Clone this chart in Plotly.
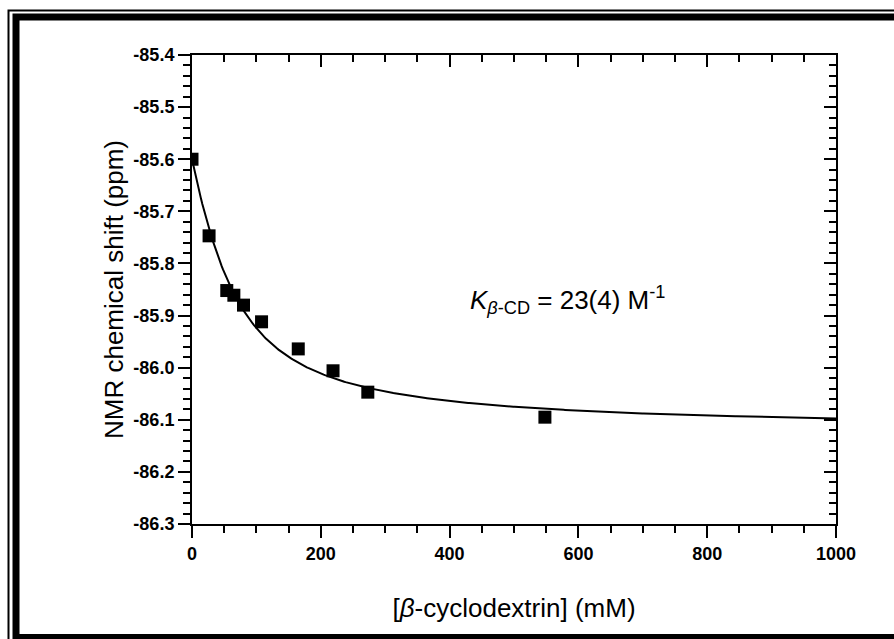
import numpy as np
import plotly.graph_objects as go

# Titration data: 19F NMR shift vs. beta-cyclodextrin concentration
conc_mM = [0, 26.5, 54, 65, 80, 108, 165, 219, 273, 548]
shift_ppm = [-85.600, -85.747, -85.852, -85.861, -85.880, -85.912,
             -85.964, -86.006, -86.047, -86.095]

# 1:1 binding fit parameters
K_per_M = 23.0            # association constant, M^-1
guest_mM = 45.0           # total guest concentration
delta_free = -85.600      # shift of free guest
delta_bound = -86.120     # shift of fully complexed guest

x_ticks = [0, 200, 400, 600, 800, 1000]
x_ticktext = ["0", "200", "400", "600", "800", "1000"]
y_ticks = [-86.3, -86.2, -86.1, -86.0, -85.9, -85.8, -85.7, -85.6, -85.5, -85.4]
y_ticktext = ["-86.3", "-86.2", "-86.1", "-86.0", "-85.9", "-85.8",
              "-85.7", "-85.6", "-85.5", "-85.4"]

# fitted curve from the 1:1 binding isotherm (quadratic form)
K = K_per_M / 1000.0
h = np.linspace(0, 1000, 500)
S = guest_mM + h + 1.0 / K
frac = (S - np.sqrt(S ** 2 - 4 * guest_mM * h)) / (2 * guest_mM)
fit = delta_free + (delta_bound - delta_free) * frac

# plot-area geometry in pixels (for placing frame and label)
W, H = 894, 639
L, R, T, B = 192, 836, 55, 524


def px_x(p):
    return (p - L) / (R - L)


def px_y(p):
    return (B - p) / (B - T)


fig = go.Figure()
fig.add_trace(go.Scatter(x=h, y=fit, mode="lines",
                         line=dict(color="black", width=2), hoverinfo="skip"))
fig.add_trace(go.Scatter(x=conc_mM, y=shift_ppm, mode="markers",
                         marker=dict(symbol="square", size=13, color="black",
                                     line=dict(width=0))))
# companion trace carrying the top / right axes
fig.add_trace(go.Scatter(x=conc_mM, y=shift_ppm, mode="markers", xaxis="x2", yaxis="y2",
                         marker=dict(opacity=0), hoverinfo="skip"))

tickfont = dict(family="Liberation Sans, Arial", size=18, color="black", weight="bold")
titlefont = dict(family="Liberation Sans, Arial", size=26, color="black")

common = dict(showgrid=False, zeroline=False, showline=True, linecolor="black",
              linewidth=2, tickcolor="black", tickwidth=2, ticklen=12)

fig.update_layout(
    width=W, height=H,
    margin=dict(l=L, r=W - R, t=T, b=H - B, pad=0),
    paper_bgcolor="white", plot_bgcolor="white",
    showlegend=False,
    font=dict(family="Liberation Sans, Arial", color="black"),
    xaxis=dict(range=[0, 1000], tickmode="array", tickvals=x_ticks, ticktext=x_ticktext,
               ticks="outside", tickfont=tickfont,
               minor=dict(tickmode="linear", tick0=0, dtick=50, ticks="outside",
                          ticklen=7, tickwidth=2, tickcolor="black"),
               title=dict(text="[<i>β</i>-cyclodextrin] (mM)", font=titlefont, standoff=36),
               **common),
    yaxis=dict(range=[-86.3, -85.4], tickmode="array", tickvals=y_ticks, ticktext=y_ticktext,
               ticks="outside", tickfont=tickfont,
               minor=dict(tickmode="linear", tick0=-86.3, dtick=0.02, ticks="outside",
                          ticklen=7, tickwidth=2, tickcolor="black"),
               title=dict(text="NMR chemical shift (ppm)", font=titlefont, standoff=2),
               **common),
    xaxis2=dict(range=[0, 1000], overlaying="x", side="top", anchor="y",
                tickmode="array", tickvals=x_ticks, ticks="inside", showticklabels=False,
                minor=dict(tickmode="linear", tick0=0, dtick=50, ticks="inside",
                           ticklen=7, tickwidth=2, tickcolor="black"),
                **common),
    yaxis2=dict(range=[-86.3, -85.4], overlaying="y", side="right", anchor="x",
                tickmode="array", tickvals=y_ticks, ticks="inside", showticklabels=False,
                minor=dict(tickmode="linear", tick0=-86.3, dtick=0.02, ticks="inside",
                           ticklen=7, tickwidth=2, tickcolor="black"),
                **common),
)

# double frame around the figure
fig.add_shape(type="rect", xref="paper", yref="paper",
              x0=px_x(8.5), x1=px_x(930), y0=px_y(10.5), y1=px_y(700),
              line=dict(color="black", width=2), fillcolor="rgba(0,0,0,0)", layer="above")
fig.add_shape(type="rect", xref="paper", yref="paper",
              x0=px_x(16), x1=px_x(930), y0=px_y(17), y1=px_y(637.5),
              line=dict(color="black", width=7), fillcolor="rgba(0,0,0,0)", layer="above")

fig.add_annotation(xref="paper", yref="paper", x=px_x(567), y=px_y(300),
                   text="<i>K</i><sub><i>β</i>-CD</sub> = 23(4) M<sup>-1</sup>",
                   showarrow=False, font=dict(family="Liberation Sans, Arial", size=26,
                                              color="black"),
                   xanchor="center", yanchor="middle")

fig.write_html("out.html")
